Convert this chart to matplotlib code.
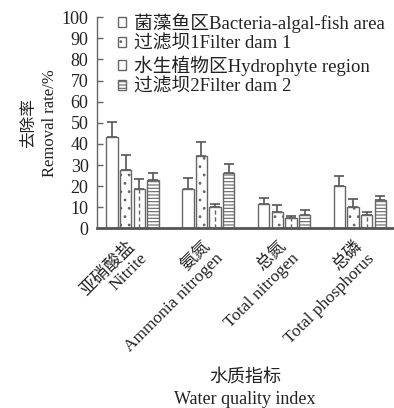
import numpy as np
import matplotlib
matplotlib.use('Agg')
from matplotlib import pyplot as plt
from matplotlib.transforms import ScaledTranslation

plt.rcParams['font.family'] = ['Liberation Serif', 'Noto Sans CJK SC']
plt.rcParams['hatch.linewidth'] = 0.8

categories = ['亚硝酸盐\nNitrite', '氨氮\nAmmonia nitrogen',
              '总氮\nTotal nitrogen', '总磷\nTotal phosphorus']
labels = ['菌藻鱼区Bacteria-algal-fish area', '过滤坝1Filter dam 1',
          '水生植物区Hydrophyte region', '过滤坝2Filter dam 2']

# mean removal rate (%) and upper error per zone, one list per zone
means = [[43.3, 18.6, 11.7, 20.0],
         [27.6, 34.4, 7.6, 10.3],
         [18.9, 10.3, 4.8, 6.2],
         [23.0, 26.2, 6.3, 13.5]]
errs = [[7.0, 5.5, 2.7, 4.8],
        [7.3, 6.6, 3.5, 3.5],
        [4.6, 1.3, 1.1, 1.4],
        [3.3, 4.1, 2.4, 2.0]]

hatches = ['', '..', '', '-----']
edge = '#666666'
tc = '#222222'

fig = plt.figure(figsize=(3.94, 4.08), dpi=100)
ax = fig.add_axes([0.246, 0.44, 0.752, 0.518])

x = np.arange(len(categories))
width = 0.15
pitch = 0.18
for i in range(4):
    pos = x + (i - 1.5) * pitch
    ax.errorbar(pos, means[i], yerr=[np.zeros(4), errs[i]], fmt='none',
                ecolor='#555555', elinewidth=1.2, capsize=3.5, capthick=1.2, zorder=1)
    ax.bar(pos, means[i], width, color='white', edgecolor=edge, linewidth=1.0,
           hatch=hatches[i], label=labels[i], zorder=2)
    if i == 2:
        # dashed centre line for the hydrophyte bars
        ax.vlines(pos, 0, means[i], colors=edge, linestyles=(0, (3, 2)),
                  linewidth=1.0, zorder=3)

ax.set_xlim(-0.47, 3.44)
ax.set_ylim(0, 100)
ax.set_yticks(range(0, 101, 10))
ax.set_xticks(x)
ax.set_xticklabels([])
ax.tick_params(axis='x', length=0)
ax.tick_params(axis='y', direction='in', length=4, width=1, colors=edge,
               labelcolor=tc, labelsize=13, pad=6)

# category labels, rotated and right-aligned under each group
shift = ScaledTranslation(-0.055, -0.10, fig.dpi_scale_trans)
for xi, cat in zip(x, categories):
    ax.text(xi, 0, cat, transform=ax.get_xaxis_transform() + shift,
            rotation=45, ha='right', va='top', rotation_mode='anchor',
            multialignment='right', fontsize=12.5, color=tc, linespacing=1.1)

for s in ['top', 'right']:
    ax.spines[s].set_visible(False)
ax.spines['left'].set_color(edge)
ax.spines['left'].set_linewidth(1.0)
ax.spines['bottom'].set_color('#555555')
ax.spines['bottom'].set_linewidth(2.0)

ax.set_ylabel('去除率\nRemoval rate/%', fontsize=12, color=tc, labelpad=3,
              linespacing=1.4)
ax.set_xlabel('水质指标\nWater quality index', fontsize=13, color=tc,
              linespacing=1.35)
ax.xaxis.set_label_coords(0.5, -0.668)

ax.legend(loc='upper left', bbox_to_anchor=(0.015, 1.10), frameon=False,
          fontsize=13.5, handlelength=0.4, handleheight=0.4, handletextpad=0.45,
          labelspacing=0.15, labelcolor=tc)

plt.savefig('out.png', dpi=100)
